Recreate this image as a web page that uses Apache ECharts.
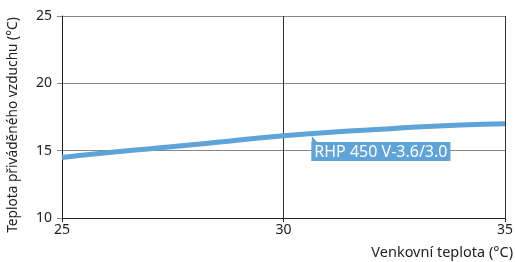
<!DOCTYPE html>
<html>
<head>
<meta charset="utf-8">
<script src="https://cdn.jsdelivr.net/npm/echarts@6/dist/echarts.min.js"></script>
<style>
  html, body { margin: 0; padding: 0; background: #fff; }
  #chart { width: 515px; height: 262px; }
</style>
</head>
<body>
<div id="chart"></div>
<script>
const outdoorTemp = [25, 26, 27, 28, 29, 30, 31, 32, 33, 34, 35];
const supplyTemp = [14.5, 14.85, 15.15, 15.45, 15.8, 16.1, 16.35, 16.55, 16.75, 16.9, 17.0];
const seriesName = 'RHP 450 V-3.6/3.0';
const labelIndex = 6;

const font = 'Noto Sans';
const blue = '#5fa4d9';

let chart = echarts.init(document.getElementById('chart'));
chart.setOption({
  animation: false,
  grid: { left: 62, right: 10, top: 16, bottom: 44, outerBoundsMode: 'none' },
  xAxis: {
    type: 'value',
    min: 25, max: 35, interval: 5,
    name: 'Venkovní teplota (°C)',
    nameLocation: 'end',
    nameGap: 8,
    nameTextStyle: { fontFamily: font, fontSize: 14.5, color: '#222', align: 'right', verticalAlign: 'top', padding: [27, 0, 0, 0] },
    axisLine: { lineStyle: { color: '#222', width: 1 } },
    axisTick: { show: true, length: 4, lineStyle: { color: '#222' } },
    axisLabel: { fontFamily: font, fontSize: 14, color: '#222', margin: 5 },
    splitLine: { show: true, lineStyle: { color: '#333', width: 1 } }
  },
  yAxis: {
    type: 'value',
    min: 10, max: 25, interval: 5,
    name: 'Teplota přiváděného vzduchu (°C)',
    nameLocation: 'middle',
    nameGap: 42,
    nameTextStyle: { fontFamily: font, fontSize: 13.7, color: '#222', padding: [0, 16, 0, 0] },
    axisLine: { show: true, lineStyle: { color: '#222', width: 1 } },
    axisTick: { show: true, length: 5, lineStyle: { color: '#888' } },
    axisLabel: { fontFamily: font, fontSize: 14, color: '#222', margin: 10 },
    splitLine: { show: true, lineStyle: { color: '#888', width: 1 } }
  },
  series: [{
    name: seriesName,
    type: 'line',
    smooth: true,
    symbol: 'none',
    lineStyle: { color: blue, width: 5 },
    data: outdoorTemp.map((x, i) => [x, supplyTemp[i]]),
    markPoint: {
      silent: true,
      data: [{
        // callout pointer
        coord: [outdoorTemp[labelIndex], supplyTemp[labelIndex]],
        symbol: 'path://M0,0 L0,10 L7,10 Z',
        symbolSize: [6, 7],
        symbolOffset: [-13, 7],
        itemStyle: { color: blue },
        label: { show: false }
      }, {
        coord: [outdoorTemp[labelIndex], supplyTemp[labelIndex]],
        symbol: 'circle',
        symbolSize: 1,
        itemStyle: { color: 'rgba(0,0,0,0)' },
        label: {
          show: true,
          formatter: seriesName,
          position: [-16, 10],
          align: 'left',
          verticalAlign: 'top',
          fontFamily: font,
          fontSize: 16,
          color: '#fff',
          backgroundColor: blue,
          padding: [2, 3, 1, 3]
        }
      }]
    }
  }]
});
</script>
</body>
</html>
